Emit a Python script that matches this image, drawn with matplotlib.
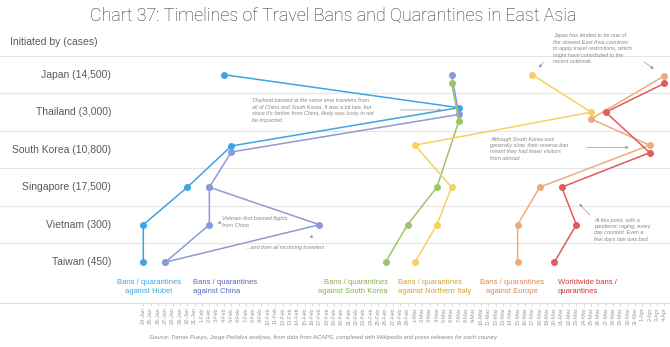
import matplotlib
matplotlib.use("Agg")
import matplotlib.pyplot as plt
import matplotlib.dates as mdates
import matplotlib.transforms as mtransforms
import pandas as pd

plt.rcParams["font.family"] = ["Liberation Sans", "DejaVu Sans"]

# rows, top to bottom
countries = ["Japan", "Thailand", "South Korea", "Singapore", "Vietnam", "Taiwan"]
cases = ["14,500", "3,000", "10,800", "17,500", "300", "450"]

# start date of each kind of ban, one per country (None = no dot)
hubei_dates = ["2020-02-04", "2020-03-07", "2020-02-05", "2020-01-30", "2020-01-24", "2020-01-24"]
china_dates = ["2020-03-06", "2020-03-07", "2020-02-05", "2020-02-02", "2020-02-17", "2020-01-27"]
vietnam_first_china_ban = "2020-02-02"
korea_dates = ["2020-03-06", "2020-03-07", None, "2020-03-04", "2020-02-29", "2020-02-26"]
italy_dates = ["2020-03-17", "2020-03-25", "2020-03-01", "2020-03-06", "2020-03-04", "2020-03-01"]
europe_dates = ["2020-04-04", "2020-03-25", "2020-04-02", "2020-03-18", "2020-03-15", "2020-03-15"]
world_dates = ["2020-04-04", "2020-03-27", "2020-04-02", "2020-03-21", "2020-03-23", "2020-03-20"]

tick_start = "2020-01-24"
tick_end = "2020-04-04"

# small vertical nudges so that dots on the same day don't sit on each other
nudge = {
    ("hubei", 1): -0.12, ("hubei", 2): -0.1,
    ("china", 1): 0.06, ("china", 2): 0.06,
    ("korea", 0): 0.22, ("korea", 1): 0.23,
    ("italy", 2): -0.12,
    ("europe", 0): 0.03, ("europe", 1): 0.18, ("europe", 2): -0.12,
    ("world", 0): 0.23, ("world", 2): 0.08,
}

series = [
    ("hubei", hubei_dates, "#3ea4e4"),
    ("china", china_dates, "#8d9ad8"),
    ("korea", korea_dates, "#9dc46b"),
    ("italy", italy_dates, "#f6d160"),
    ("europe", europe_dates, "#eeab7e"),
    ("world", world_dates, "#e05b5b"),
]

legend = [
    ("Bans / quarantines\nagainst Hubei", "#3ea4e4", 149, "center"),
    ("Bans / quarantines\nagainst China", "#5467bd", 193, "left"),
    ("Bans / quarantines\nagainst South Korea", "#86b250", 388, "right"),
    ("Bans / quarantines\nagainst Northern Italy", "#cfa52c", 398, "left"),
    ("Bans / quarantines\nagainst Europe", "#d9885a", 512, "center"),
    ("Worldwide bans /\nquarantines", "#cf3636", 558, "left"),
]

W, H = 670, 347
fig = plt.figure(figsize=(W / 100, H / 100), dpi=100)
ax = fig.add_axes([0, 1 - 303 / H, 1, (303 - 55) / H])

start = mdates.date2num(pd.Timestamp(tick_start))
px_day = 7.34
ax.set_xlim(start - 143.3 / px_day, start + (W - 143.3) / px_day)
ax.set_ylim(6.088, (55 - 74.7) / 37.5)

for b in [-0.5, 0.5, 1.5, 2.5, 3.5, 4.5]:
    ax.axhline(b, color="#e6e6e6", lw=0.8, zorder=0)


def to_x(d):
    return mdates.date2num(pd.Timestamp(d))


for key, dates, color in series:
    xs, ys = [], []
    for i, d in enumerate(dates):
        if d is None:
            continue
        xs.append(to_x(d))
        ys.append(i + nudge.get((key, i), 0))
    ax.plot(xs, ys, color=color, lw=1.1, marker="o", markersize=4, zorder=3)

# Vietnam's first ban on flights from China (second purple route)
sg = 3
vn = 4
tw = 5
ax.plot([to_x(china_dates[sg]), to_x(vietnam_first_china_ban), to_x(china_dates[tw])],
        [sg, vn, tw], color="#8d9ad8", lw=1.1, marker="o", markersize=4, zorder=3)

# row labels
trans = mtransforms.blended_transform_factory(ax.transAxes, ax.transData)
for i, (c, n) in enumerate(zip(countries, cases)):
    ax.text(111 / W, i, f"{c} ({n})", transform=trans, ha="right", va="center",
            fontsize=7.5, color="#5a5a5a")

# x axis
ticks = pd.date_range(tick_start, tick_end, freq="D")
ax.set_xticks(mdates.date2num(ticks))
ax.xaxis.set_major_formatter(mdates.DateFormatter("%-d-%b"))
ax.tick_params(axis="x", labelsize=4, labelcolor="#999999", rotation=90,
               length=2, color="#dddddd", pad=1)
ax.set_yticks([])
for s in ["top", "left", "right"]:
    ax.spines[s].set_visible(False)
ax.spines["bottom"].set_color("#dddddd")
ax.spines["bottom"].set_linewidth(0.8)


def day(n):
    return start + n


note = dict(fontsize=4, style="italic", color="#888888", va="top", ha="left", linespacing=1.35)
arrow = dict(arrowstyle="-|>", color="#999999", lw=0.5, mutation_scale=4)

ax.text(day(55.8), -1.1, "Japan has tended to be one of\nthe slowest East Asia countries\n"
        "to apply travel restrictions, which\nmight have contributed to the\nrecent outbreak.", **note)
ax.annotate("", xy=(day(53.66), -0.13), xytext=(day(54.73), -0.39), arrowprops=arrow)
ax.annotate("", xy=(day(69.85), -0.11), xytext=(day(67.9), -0.39), arrowprops=arrow)

ax.text(day(14.85), 0.63, "Thailand banned at the same time travelers from\n"
        "all of China and South Korea. It was a bit late, but\n"
        "since it's farther from China, likely was lucky to not\nbe impacted.", **note)
ax.annotate("", xy=(day(41.0), 0.94), xytext=(day(34.66), 0.94), arrowprops=arrow)

ax.text(day(47.23), 1.65, "Although South Korea was\ngenerally slow, their reverse ban\n"
        "meant they had fewer visitors\nfrom abroad", **note)
ax.annotate("", xy=(day(66.54), 1.94), xytext=(day(59.95), 1.94), arrowprops=arrow)

ax.text(day(61.44), 3.81, "At this point, with a\npandemic raging, every\n"
        "day counted. Even a\nfew days late was bad.", **note)
ax.annotate("", xy=(day(59.13), 3.39), xytext=(day(61.09), 3.79), arrowprops=arrow)

ax.text(day(10.72), 3.78, "Vietnam first banned flights\nfrom China", **note)
ax.annotate("", xy=(day(9.77), 3.98), xytext=(day(10.5), 3.94), arrowprops=arrow)

ax.text(day(13.95), 4.62, "...and then all incoming travelers", **dict(note, va="center"))
ax.annotate("", xy=(day(23.2), 4.2), xytext=(day(22.71), 4.41), arrowprops=arrow)

# titles and legend
fig.text(333 / W, 1 - 16 / H, "Chart 37: Timelines of Travel Bans and Quarantines in East Asia",
         ha="center", va="center", fontsize=12.9, color="#2e2e2e",
         family=["Roboto", "Liberation Sans"], fontweight="light")
fig.text(10 / W, 1 - 42 / H, "Initiated by (cases)", ha="left", va="center",
         fontsize=7.5, color="#5a5a5a")

for label, color, x, align in legend:
    fig.text(x / W, 1 - 287 / H, label, ha=align, multialignment=align, va="center",
             fontsize=5.5, color=color, linespacing=1.5)

fig.text(323 / W, 1 - 338 / H,
         "Source: Tomas Pueyo, Jorge Peñalva analysis, from data from ACAPS, "
         "completed with Wikipedia and press releases for each country",
         ha="center", va="center", fontsize=4.2, style="italic", color="#888888")

fig.savefig("out.png", dpi=100)
